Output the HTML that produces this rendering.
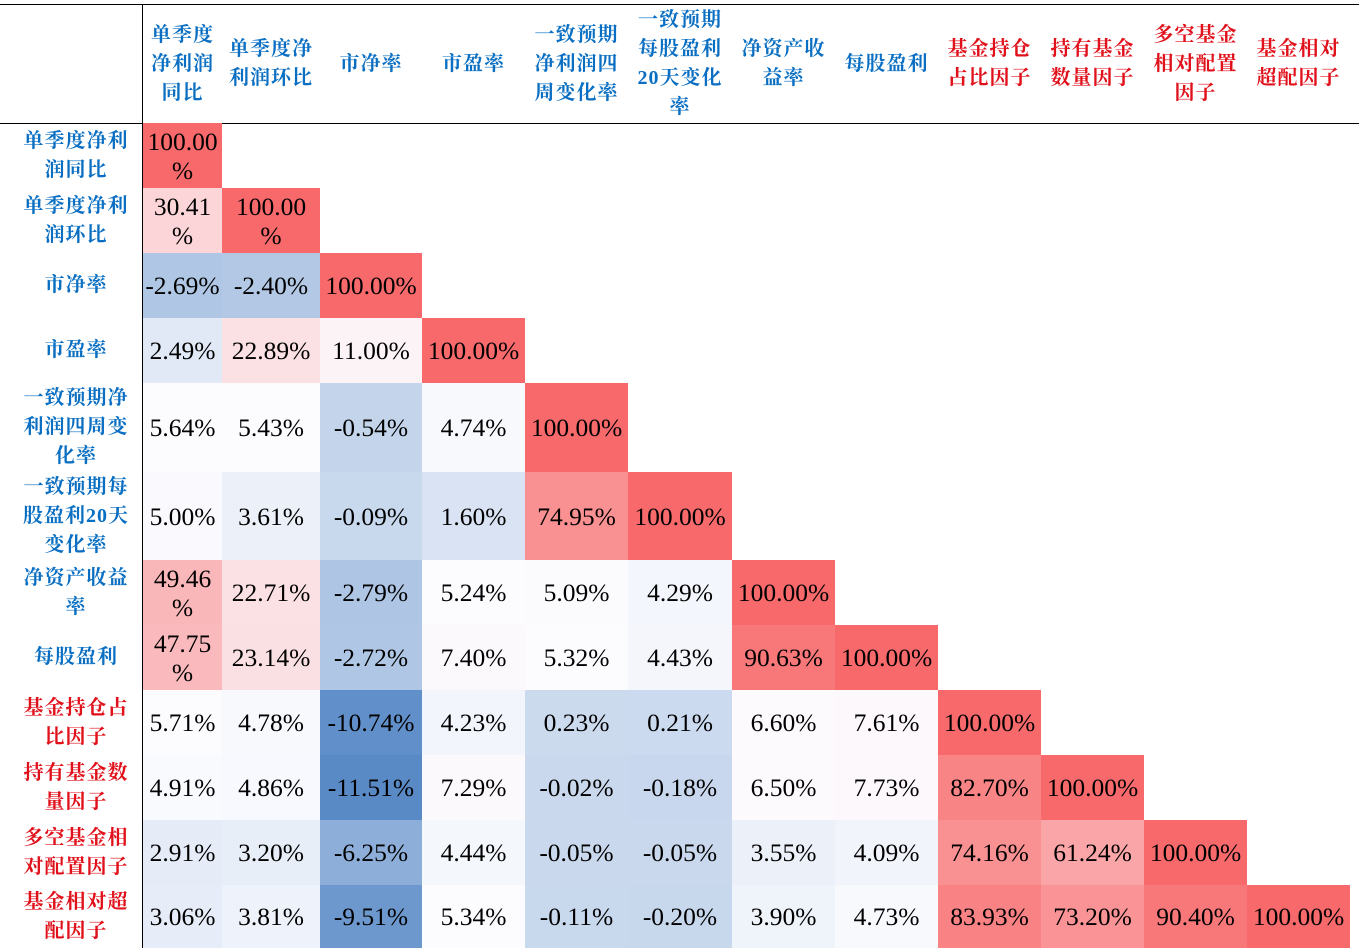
<!DOCTYPE html>
<html><head><meta charset="utf-8">
<style>
body{margin:0;background:#fff;width:1359px;height:948px;overflow:hidden;position:relative;font-family:"Liberation Serif","Noto Serif CJK SC",serif;}
.c{position:absolute;display:flex;align-items:center;justify-content:center;text-align:center;box-sizing:border-box;}
.v{font-size:25.5px;color:#000;line-height:29px;white-space:nowrap;letter-spacing:0px}
.lab{font-size:20px;font-weight:bold;line-height:29px;letter-spacing:1px}
.hl{font-size:20px;font-weight:bold;line-height:29px;letter-spacing:1px}
.b{color:#0a6fc2}.r{color:#e0111b}
.line{position:absolute;background:#000}
</style></head><body>
<div class="line" style="left:0;top:4px;width:1359px;height:1px"></div>
<div class="line" style="left:0;top:123px;width:1359px;height:1px"></div>
<div class="line" style="left:142px;top:4px;width:1px;height:944px"></div>
<div id="root"></div>
<script>
const colLabels=["单季度<br>净利润<br>同比","单季度净<br>利润环比","市净率","市盈率","一致预期<br>净利润四<br>周变化率","一致预期<br>每股盈利<br>20天变化<br>率","净资产收<br>益率","每股盈利","基金持仓<br>占比因子","持有基金<br>数量因子","多空基金<br>相对配置<br>因子","基金相对<br>超配因子"];
const rowLabels=["单季度净利<br>润同比","单季度净利<br>润环比","市净率","市盈率","一致预期净<br>利润四周变<br>化率","一致预期每<br>股盈利20天<br>变化率","净资产收益<br>率","每股盈利","基金持仓占<br>比因子","持有基金数<br>量因子","多空基金相<br>对配置因子","基金相对超<br>配因子"];
const labelColor=["b","b","b","b","b","b","b","b","r","r","r","r"];
const corr=[
[100],
[30.41,100],
[-2.69,-2.40,100],
[2.49,22.89,11.00,100],
[5.64,5.43,-0.54,4.74,100],
[5.00,3.61,-0.09,1.60,74.95,100],
[49.46,22.71,-2.79,5.24,5.09,4.29,100],
[47.75,23.14,-2.72,7.40,5.32,4.43,90.63,100],
[5.71,4.78,-10.74,4.23,0.23,0.21,6.60,7.61,100],
[4.91,4.86,-11.51,7.29,-0.02,-0.18,6.50,7.73,82.70,100],
[2.91,3.20,-6.25,4.44,-0.05,-0.05,3.55,4.09,74.16,61.24,100],
[3.06,3.81,-9.51,5.34,-0.11,-0.20,3.90,4.73,83.93,73.20,90.40,100]
];
const colX=[143,222,320,422,525,628,732,835,938,1041,1144,1247,1350];
const rowY=[123,188,253,318,383,472,560,625,690,755,820,885,948];
const root=document.getElementById('root');
const all=corr.flat().slice().sort((a,b)=>a-b);
const vmin=all[0],vmax=all[all.length-1],mid=all[Math.floor(all.length/2)];
function color(v){
  const lerp=(a,b,t)=>Math.round(a+(b-a)*t);
  if(v<mid){const t=(mid-v)/(mid-vmin);return `rgb(${lerp(252,90,t)},${lerp(252,138,t)},${lerp(255,198,t)})`;}
  const t=(v-mid)/(vmax-mid);return `rgb(${lerp(252,248,t)},${lerp(252,105,t)},${lerp(255,107,t)})`;
}
colLabels.forEach((t,i)=>{
  const d=document.createElement('div');d.className='c hl '+labelColor[i];
  
  
  d.style.cssText=`left:${colX[i]}px;top:5px;width:${colX[i+1]-colX[i]}px;height:118px`;
  d.innerHTML=t;root.appendChild(d);
});
rowLabels.forEach((t,i)=>{
  const d=document.createElement('div');d.className='c lab '+labelColor[i];
  
  
  d.style.cssText=`left:10px;top:${rowY[i]}px;width:132px;height:${rowY[i+1]-rowY[i]}px`;
  d.innerHTML=t;root.appendChild(d);
});
corr.forEach((row,i)=>row.forEach((v,j)=>{
  const d=document.createElement('div');d.className='c v';
  
  
  d.style.cssText=`left:${colX[j]}px;top:${rowY[i]}px;width:${colX[j+1]-colX[j]}px;height:${rowY[i+1]-rowY[i]}px;background:${color(v)}`;
  const s=v.toFixed(2);
  const wrap=(j===0&&Math.abs(v)>=10)||(j===1&&v>=100);
  d.innerHTML=wrap?s+'<br>%':s+'%';
  root.appendChild(d);
}));
</script>
</body></html>
